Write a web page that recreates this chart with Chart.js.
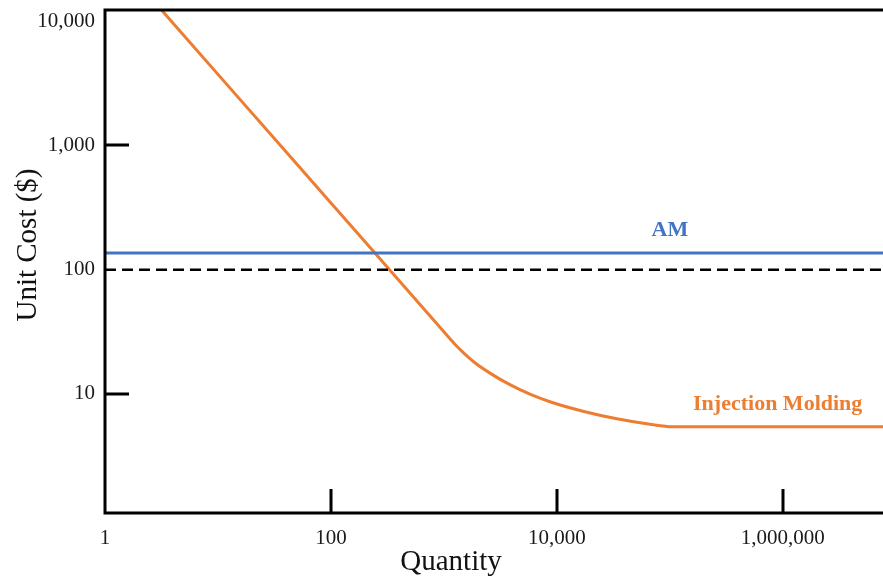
<!DOCTYPE html>
<html>
<head>
<meta charset="utf-8">
<script src="https://cdn.jsdelivr.net/npm/chart.js@4"></script>
<style>
  html, body { margin: 0; padding: 0; background: #fff; }
  canvas { display: block; }
</style>
</head>
<body>
<canvas id="costChart" width="883" height="577"></canvas>
<script>
const quantityTicks = [1, 100, 10000, 1000000];
const costTicks = [10, 100, 1000, 10000];
const quantityTickMarks = [100, 10000, 1000000];
const costTickMarks = [10, 1000];

const moldingQuantity = [3, 10, 100, 245, 922, 1251, 1534, 1880, 2554, 3838, 5768, 8670, 16980, 33960, 66530, 106400, 8000000];
const moldingCost = [13000, 3730, 344, 136, 34.4, 25.1, 20.9, 17.8, 14.7, 11.86, 9.95, 8.65, 7.26, 6.31, 5.70, 5.44, 5.43];
const amQuantity = [1, 8000000];
const amCost = [136, 136];
const referenceCost = [100, 100];

const seriesNames = ['AM', 'Injection Molding'];
const axisTitles = ['Quantity', 'Unit Cost ($)'];

const blue = '#4472C4';
const orange = '#ED7D31';
const serif = "'Liberation Serif', 'Times New Roman', serif";

const toPoints = (xs, ys) => xs.map((q, i) => ({ x: q, y: ys[i] }));
const fmt = v => Number(v).toLocaleString('en-US');

// frame, inward tick marks, titles and series labels
const decorations = {
  id: 'decorations',
  afterDatasetsDraw(chart) {
    const { ctx, chartArea: a, scales: { x, y } } = chart;
    ctx.save();
    ctx.strokeStyle = '#000';
    ctx.lineWidth = 3;
    ctx.lineJoin = 'miter';
    ctx.beginPath();
    ctx.moveTo(a.right + 2, a.top);
    ctx.lineTo(a.left, a.top);
    ctx.lineTo(a.left, a.bottom);
    ctx.lineTo(a.right + 2, a.bottom);
    ctx.stroke();

    ctx.beginPath();
    quantityTickMarks.forEach(v => {
      const px = Math.round(x.getPixelForValue(v));
      ctx.moveTo(px, a.bottom);
      ctx.lineTo(px, a.bottom - 24);
    });
    costTickMarks.forEach(v => {
      const py = Math.round(y.getPixelForValue(v));
      ctx.moveTo(a.left, py);
      ctx.lineTo(a.left + 24, py);
    });
    ctx.stroke();

    ctx.fillStyle = '#111';
    ctx.font = `29px ${serif}`;
    ctx.textAlign = 'center';
    ctx.textBaseline = 'alphabetic';
    ctx.fillText(axisTitles[0], 451, 570);
    ctx.save();
    ctx.translate(36, 245);
    ctx.rotate(-Math.PI / 2);
    ctx.fillText(axisTitles[1], 0, 0);
    ctx.restore();

    ctx.font = `bold 22px ${serif}`;
    ctx.fillStyle = blue;
    ctx.fillText(seriesNames[0], x.getPixelForValue(100000), y.getPixelForValue(amCost[0]) - 17);
    ctx.fillStyle = orange;
    ctx.fillText(seriesNames[1], x.getPixelForValue(900000), y.getPixelForValue(moldingCost[moldingCost.length - 1]) - 17);
    ctx.restore();
  }
};

new Chart(document.getElementById('costChart').getContext('2d'), {
  type: 'line',
  data: {
    datasets: [
      {
        label: 'reference',
        data: toPoints(amQuantity, referenceCost),
        borderColor: '#000',
        borderWidth: 2.5,
        borderDash: [11, 6],
        pointRadius: 0
      },
      {
        label: seriesNames[0],
        data: toPoints(amQuantity, amCost),
        borderColor: blue,
        borderWidth: 3,
        pointRadius: 0
      },
      {
        label: seriesNames[1],
        data: toPoints(moldingQuantity, moldingCost),
        borderColor: orange,
        borderWidth: 3,
        pointRadius: 0,
        cubicInterpolationMode: 'monotone'
      }
    ]
  },
  options: {
    responsive: false,
    animation: false,
    devicePixelRatio: 1,
    layout: { padding: { top: 10, right: 0, bottom: 0, left: 0 } },
    plugins: {
      legend: { display: false },
      tooltip: { enabled: false }
    },
    scales: {
      x: {
        type: 'logarithmic',
        min: 1,
        max: 7700000,
        grid: { display: false, drawTicks: false },
        border: { display: false },
        afterBuildTicks: scale => { scale.ticks = quantityTicks.map(v => ({ value: v })); },
        afterFit: scale => {
          scale.height = 64;
          scale.paddingLeft = 0;
          scale.paddingRight = 0;
        },
        ticks: {
          padding: 13,
          color: '#1a1a1a',
          font: { family: serif, size: 21 },
          maxRotation: 0,
          autoSkip: false,
          callback: v => fmt(v)
        }
      },
      y: {
        type: 'logarithmic',
        min: 1.1,
        max: 12300,
        grid: { display: false, drawTicks: false },
        border: { display: false },
        afterBuildTicks: scale => { scale.ticks = costTicks.map(v => ({ value: v })); },
        afterFit: scale => {
          scale.width = 105;
          scale.paddingTop = 0;
          scale.paddingBottom = 0;
        },
        ticks: {
          padding: 10,
          color: '#1a1a1a',
          font: { family: serif, size: 21 },
          autoSkip: false,
          callback: v => fmt(v)
        }
      }
    }
  },
  plugins: [decorations]
});
</script>
</body>
</html>
